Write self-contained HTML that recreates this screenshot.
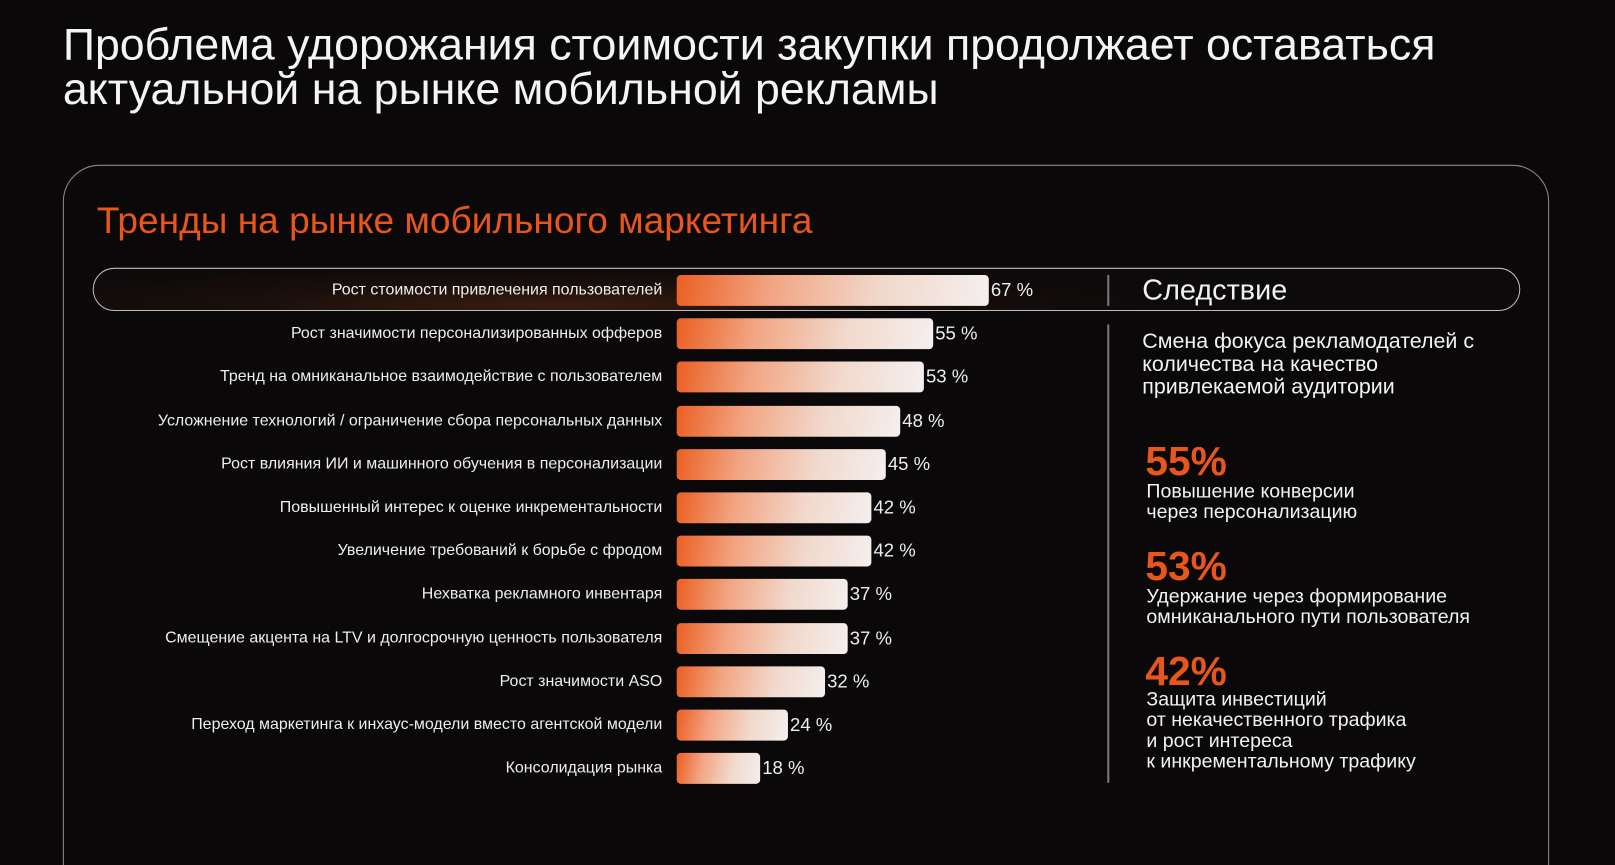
<!DOCTYPE html>
<html style="overflow:hidden;width:1615px;height:865px"><head><meta charset="utf-8"><style>
body{margin:0;width:1615px;height:865px;background:#0a0809;overflow:hidden;font-family:"Liberation Sans",sans-serif;color:#fff;position:relative}
#w{position:absolute;left:0;top:0;width:1568px;height:840px;overflow:hidden;transform:scale(1.03);transform-origin:0 0}
.t{position:absolute;left:61px;top:23px;font-size:43.4px;line-height:43px;color:#f4f4f4;white-space:nowrap}
.card{position:absolute;left:61px;top:160px;width:1443px;height:720px;border:1.5px solid #8a8a8a;border-radius:36px;box-sizing:border-box}
.sub{position:absolute;left:94px;top:193px;font-size:36px;color:#e8561c;white-space:nowrap}
.pill{position:absolute;left:90px;top:260px;width:1386px;height:42px;border:1.5px solid #bdbdbd;border-radius:22px;box-sizing:border-box;background:radial-gradient(ellipse 600px 40px at 450px 36px,#3a1d10 0%,#1a0f0b 50%,#0c0a0a 100%)}
.lab{position:absolute;right:925px;font-size:15.5px;color:#eee;white-space:nowrap;transform:translateY(-50%)}
.bar{position:absolute;left:657px;height:30px;border-radius:4px;transform:translateY(-50%);background:linear-gradient(100deg,#ea5f22 0%,#f2a482 30%,#f1d8cb 65%,#f4efee 100%)}
.val{position:absolute;font-size:18px;color:#eee;transform:translateY(-50%)}
.vl{position:absolute;left:1075px;width:1.5px;background:#777}
.r{position:absolute;left:1109px;font-size:20.8px;line-height:22px;color:#f2f2f2;white-space:nowrap}
.big{position:absolute;left:1112px;font-size:39.5px;font-weight:bold;color:#e8561c;line-height:36px}
.s{position:absolute;left:1113px;font-size:19px;line-height:20px;color:#f2f2f2;white-space:nowrap}
</style></head><body><div id="w">
<div class="t">Проблема удорожания стоимости закупки продолжает оставаться<br>актуальной на рынке мобильной рекламы</div>
<div class="card"></div>
<div class="sub">Тренды на рынке мобильного маркетинга</div>
<div class="pill"></div>
<div class="vl" style="top:267px;height:30px"></div>
<div class="vl" style="top:315px;height:445px"></div>
<div class="r" style="top:267px;font-size:28px;line-height:30px">Следствие</div>
<div class="r" style="top:321px">Смена фокуса рекламодателей с<br>количества на качество<br>привлекаемой аудитории</div>
<div class="big" style="top:430px">55%</div>
<div class="s" style="top:468px">Повышение конверсии<br>через персонализацию</div>
<div class="big" style="top:532px">53%</div>
<div class="s" style="top:570px">Удержание через формирование<br>омниканального пути пользователя</div>
<div class="big" style="top:634px">42%</div>
<div class="s" style="top:670px">Защита инвестиций<br>от некачественного трафика<br>и рост интереса<br>к инкрементальному трафику</div>
<div id="rows"></div>
</div>
<script>
var d=[["Рост стоимости привлечения пользователей",67,960],["Рост значимости персонализированных офферов",55,906],["Тренд на омниканальное взаимодействие с пользователем",53,897],["Усложнение технологий / ограничение сбора персональных данных",48,874],["Рост влияния ИИ и машинного обучения в персонализации",45,860],["Повышенный интерес к оценке инкрементальности",42,846],["Увеличение требований к борьбе с фродом",42,846],["Нехватка рекламного инвентаря",37,823],["Смещение акцента на LTV и долгосрочную ценность пользователя",37,823],["Рост значимости ASO",32,801],["Переход маркетинга к инхаус-модели вместо агентской модели",24,765],["Консолидация рынка",18,738]];
var h="";d.forEach(function(r,i){var y=282+i*42.2;
h+='<div class="lab" style="top:'+y+'px">'+r[0]+'</div><div class="bar" style="top:'+y+'px;width:'+(r[2]-657)+'px"></div><div class="val" style="top:'+y+'px;left:'+(r[2]+2)+'px">'+r[1]+' %</div>';});
document.getElementById("rows").innerHTML=h;
</script>
</body></html>
